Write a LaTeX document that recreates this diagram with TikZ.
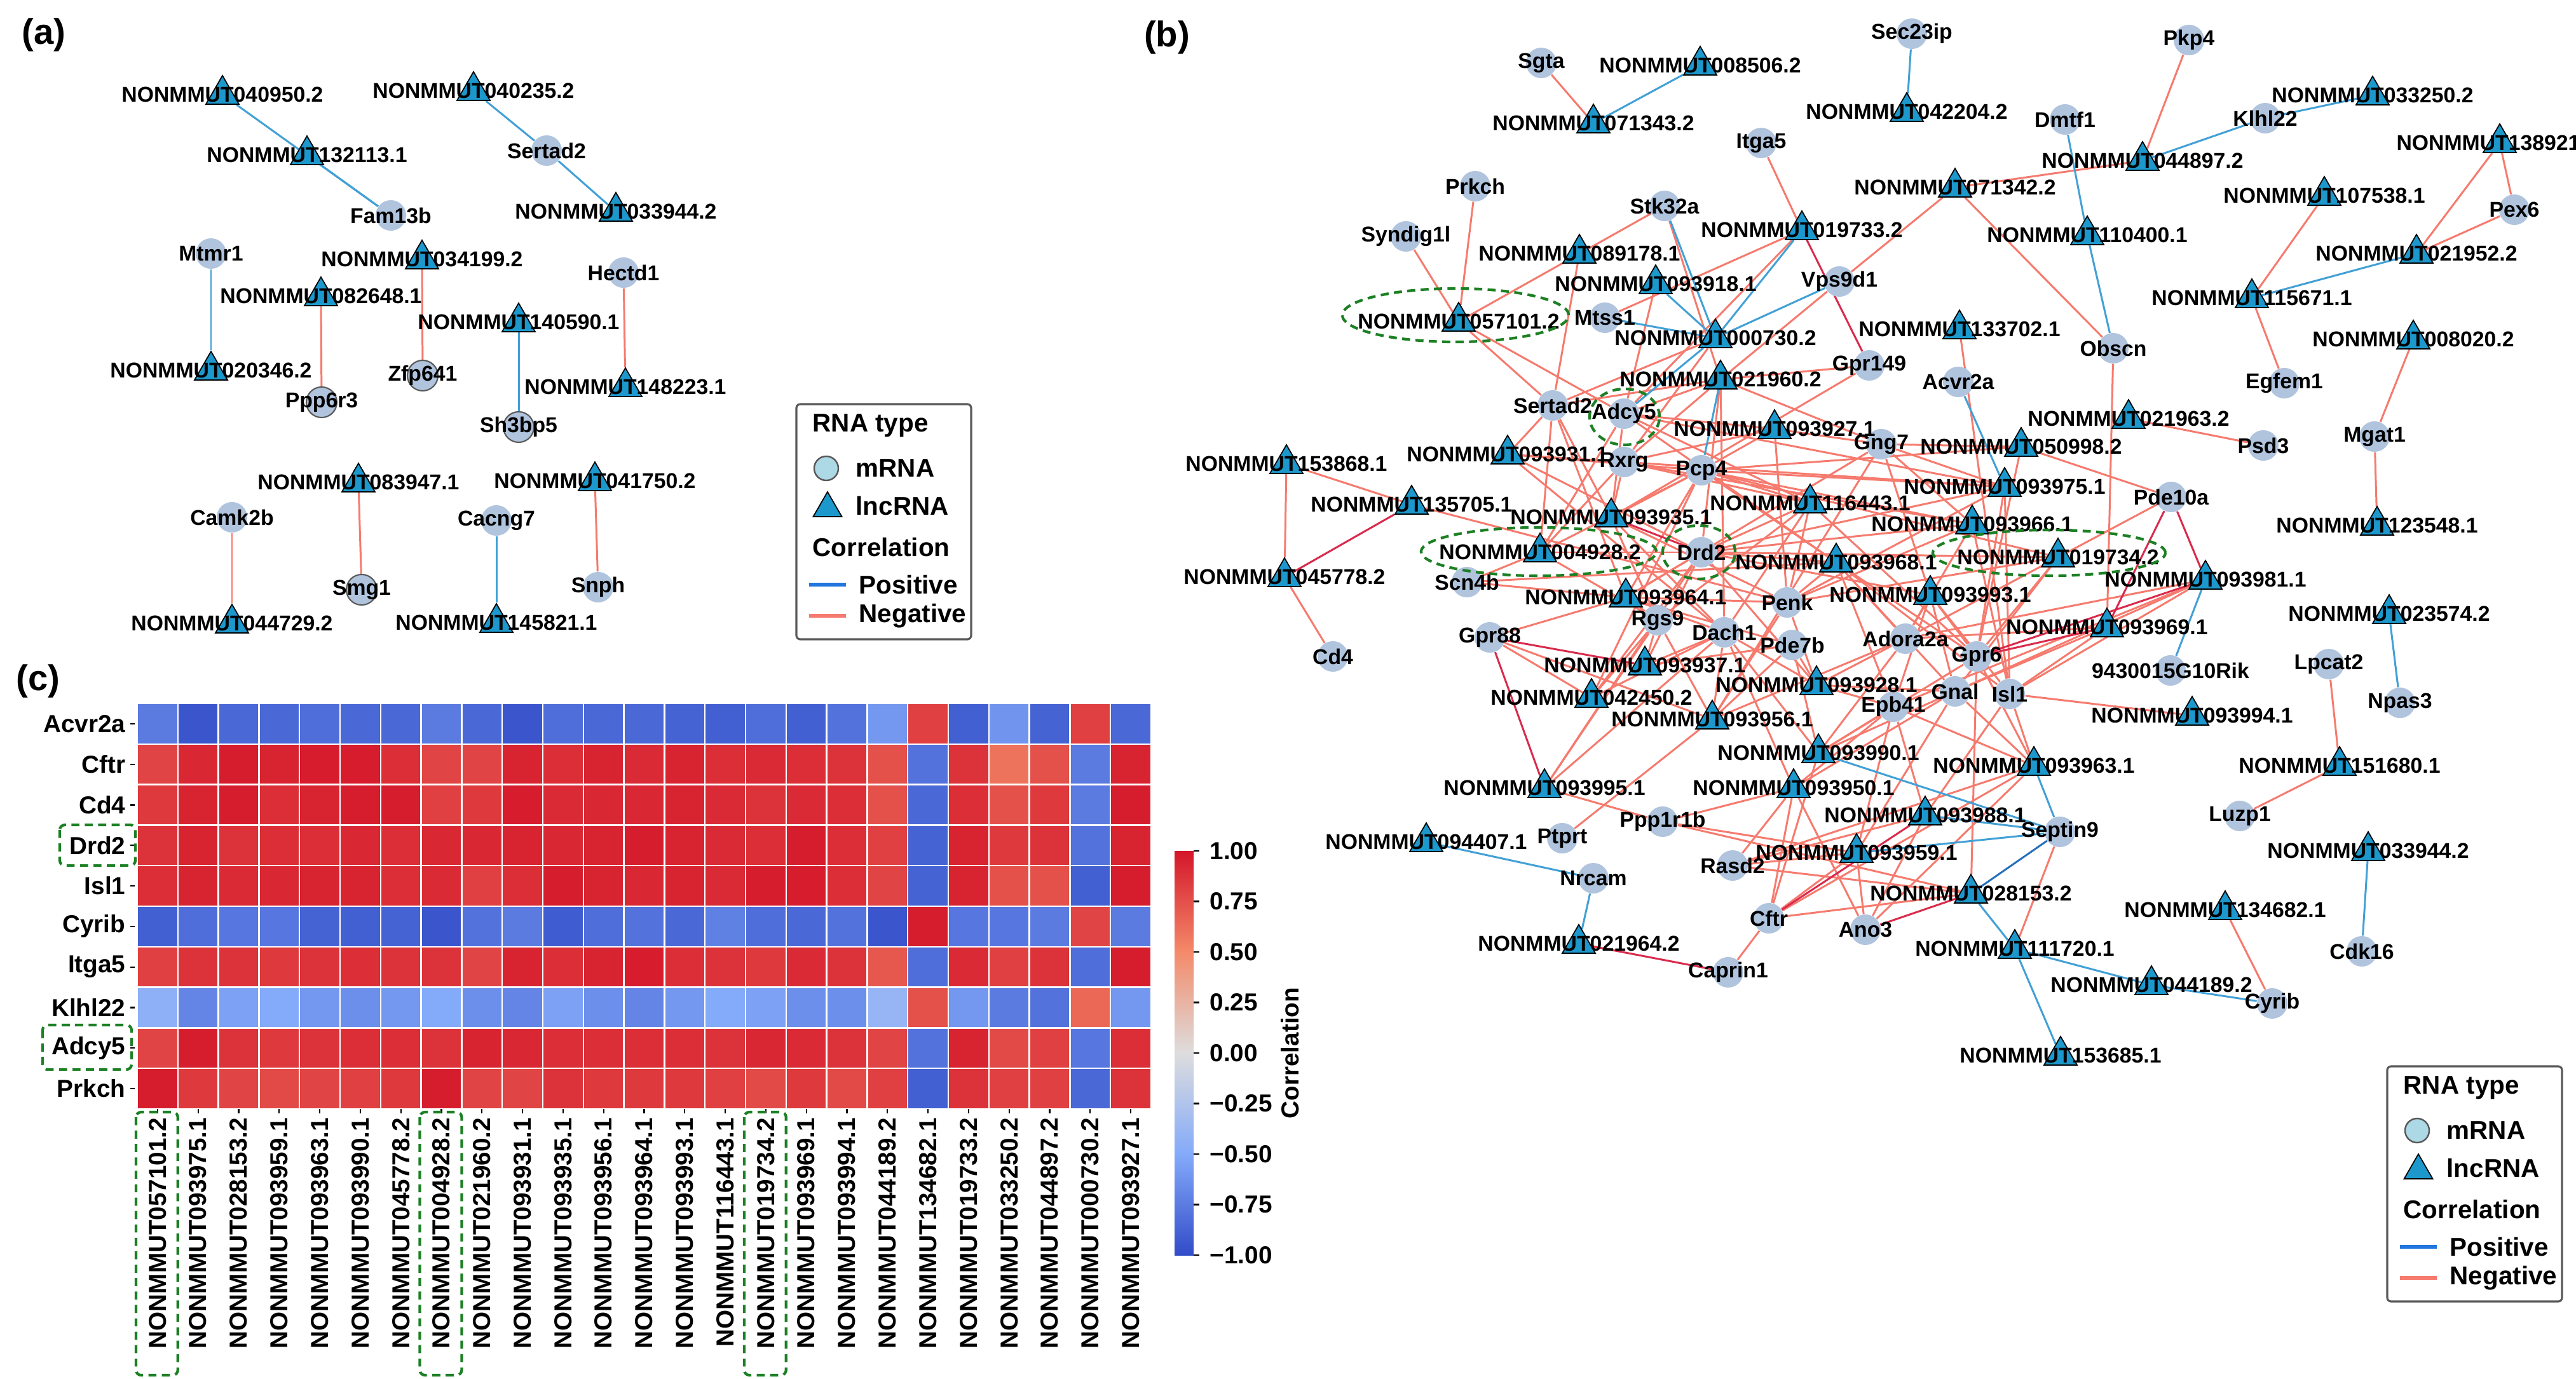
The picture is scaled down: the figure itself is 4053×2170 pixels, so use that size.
\documentclass[tikz,border=0pt]{standalone}
\usepackage{fontspec}
\setmainfont{Liberation Sans}
\usetikzlibrary{shapes.geometric}

\pgfdeclarelayer{paper}
\pgfdeclarelayer{edges}
\pgfsetlayers{paper,edges,main}

\definecolor{mrnafill}{RGB}{176,196,222}
\definecolor{legfill}{RGB}{173,216,230}
\definecolor{lncfill}{RGB}{28,152,204}
\definecolor{negred}{RGB}{246,122,110}
\definecolor{negdark}{RGB}{218,42,76}
\definecolor{posblue}{RGB}{66,160,214}
\definecolor{posdark}{RGB}{38,112,188}
\definecolor{legblue}{RGB}{34,118,222}
\definecolor{hlgreen}{RGB}{28,128,36}
\definecolor{hr1}{RGB}{212,22,42}
\definecolor{hr2}{RGB}{244,138,106}
\definecolor{hmid}{RGB}{221,221,221}
\definecolor{hb2}{RGB}{132,170,250}
\definecolor{hb1}{RGB}{50,76,200}

\def\cell{63.8}
\def\lblfont{\fontsize{9.6}{10}\selectfont\bfseries}
\def\axfont{\fontsize{11}{12}\selectfont\bfseries}
\def\legfont{\fontsize{11.5}{12}\selectfont\bfseries}

\newcommand{\setheat}[1]{%
  \pgfmathsetmacro{\hv}{#1}%
  \pgfmathtruncatemacro{\hk}{(\hv>=0.5) ? 0 : ((\hv>=0) ? 1 : ((\hv>=-0.5) ? 2 : 3))}%
  \ifcase\hk\relax
    \pgfmathtruncatemacro{\hp}{(\hv-0.5)*200}\colorlet{hc}{hr1!\hp!hr2}%
  \or
    \pgfmathtruncatemacro{\hp}{\hv*200}\colorlet{hc}{hr2!\hp!hmid}%
  \or
    \pgfmathtruncatemacro{\hp}{abs(\hv)*200}\colorlet{hc}{hb2!\hp!hmid}%
  \else
    \pgfmathtruncatemacro{\hp}{(abs(\hv)-0.5)*200}\colorlet{hc}{hb1!\hp!hb2}%
  \fi}

\pgfdeclareverticalshading{cbar}{100bp}{color(0bp)=(hb1); color(25bp)=(hb1); color(37.5bp)=(hb2); color(50bp)=(hmid); color(62.5bp)=(hr2); color(75bp)=(hr1); color(100bp)=(hr1)}

\begin{document}
\begin{tikzpicture}[x=0.01cm, y=-0.01cm]
    \tikzstyle{mrna}=[circle, fill=mrnafill, minimum size=0.48cm, inner sep=0pt]
    \tikzstyle{mrna ring}=[mrna, draw=black!65, line width=0.6pt]
    \tikzstyle{lnc}=[regular polygon, regular polygon sides=3, fill=lncfill, draw=black, line width=0.5pt, minimum size=0.6cm, inner sep=0pt]
    \tikzstyle{annot}=[font=\lblfont, inner sep=0pt]
    \tikzstyle{neglink}=[negred, line width=0.85pt]
    \tikzstyle{negdeep}=[negdark, line width=0.85pt]
    \tikzstyle{poslink}=[posblue, line width=0.85pt]
    \tikzstyle{posdeep}=[posdark, line width=0.85pt]
    \tikzstyle{hilite}=[hlgreen, line width=1.2pt, dash pattern=on 3.6pt off 2.4pt]
    \tikzstyle{legtext}=[font=\legfont, anchor=west, inner sep=0pt]
    \tikzstyle{axlab}=[font=\axfont, inner sep=0pt]
    \tikzstyle{panel}=[font=\fontsize{16}{18}\selectfont\bfseries, inner sep=0pt]

    \begin{pgfonlayer}{paper}
        \fill[white] (0,0) rectangle (4053,2170);
    \end{pgfonlayer}
    \useasboundingbox (0,0) rectangle (4053,2170);

    \node[panel] (pa) at (69,55) {(a)};
    \node[panel] (pb) at (1836,59) {(b)};
    \node[panel] (pc) at (60,1072) {(c)};

    \foreach \n/\x/\y in {Sertad2/860/237, Fam13b/615/339, Mtmr1/332/399, Hectd1/981/429,
        Camk2b/365/814, Cacng7/781/819, Snph/941/924}
        \node[mrna, label={[annot]center:\n}] (a-\n) at (\x,\y) {};
    \foreach \n/\x/\y in {Zfp641/665/591, Ppp6r3/506/633, Sh3bp5/816/672, Smg1/569/928}
        \node[mrna ring, label={[annot]center:\n}] (a-\n) at (\x,\y) {};
    \foreach \n/\s/\x/\y in {040950/2/350/149, 040235/2/745/143, 132113/1/483/244, 033944/2/969/333,
        034199/2/664/408, 082648/1/505/466, 140590/1/816/507, 020346/2/332/583, 148223/1/984/609,
        083947/1/564/759, 041750/2/936/757, 044729/2/365/981, 145821/1/781/980}
        \node[lnc, label={[annot]center:NONMMUT\n.\s}] (a-\n) at (\x,\y) {};

    \foreach \n/\x/\y in {Sgta/2425/99, Sec23ip/3008/53, Pkp4/3444/63, Klhl22/3564/186, Dmtf1/3249/188,
        Itga5/2771/225, Prkch/2321/293, Pex6/3956/330, Stk32a/2619/324, Syndig1l/2212/372,
        Vps9d1/2894/443, Mtss1/2525/500, Obscn/3325/548, Gpr149/2941/575, Acvr2a/3081/601,
        Egfem1/3594/603, Sertad2/2443/638, Adcy5/2555/651, Mgat1/3736/687, Gng7/2960/699,
        Psd3/3561/701, Rxrg/2555/727, Pcp4/2677/740, Pde10a/3416/782, Drd2/2677/869,
        Scn4b/2308/916, Penk/2812/948, Rgs9/2608/976, Dach1/2713/995, Gpr88/2344/1003,
        Adora2a/2998/1005, Pde7b/2820/1015, Cd4/2097/1033, Gpr6/3110/1033, Lpcat2/3664/1045,
        9430015G10Rik/3415/1055, Gnal/3076/1088, Isl1/3162/1092, Npas3/3776/1106, Epb41/2979/1112,
        Luzp1/3524/1284, Ppp1r1b/2616/1293, Septin9/3241/1309, Ptprt/2458/1319, Rasd2/2726/1362,
        Nrcam/2507/1382, Cftr/2783/1445, Ano3/2935/1463, Cdk16/3716/1497, Caprin1/2719/1530,
        Cyrib/3575/1579}
        \node[mrna, label={[annot]center:\n}] (b-\n) at (\x,\y) {};
    \foreach \n/\s/\x/\y in {071343/2/2507/194, 008506/2/2675/103, 042204/2/3000/176, 044897/2/3371/253,
        033250/2/3733/150, 107538/1/3657/308, 021952/2/3802/399, 115671/1/3543/469, 008020/2/3797/534,
        071342/2/3076/295, 110400/1/3284/370, 019733/2/2835/362, 089178/1/2485/399, 093918/1/2605/447,
        057101/2/2295/506, 000730/2/2699/532, 133702/1/3083/518, 021960/2/2707/597, 021963/2/3349/659,
        093927/1/2792/675, 050998/2/3180/703, 093931/1/2372/715, 153868/1/2024/730, 135705/1/2221/794,
        093975/1/3154/766, 116443/1/2848/792, 093935/1/2535/814, 093966/1/3103/825, 123548/1/3740/827,
        004928/2/2423/869, 019734/2/3238/877, 093968/1/2889/885, 045778/2/2021/908, 093981/1/3470/912,
        093993/1/3037/936, 093964/1/2558/940, 023574/2/3759/966, 093969/1/3315/987, 093937/1/2588/1047,
        093928/1/2858/1078, 042450/2/2504/1098, 093994/1/3449/1126, 093956/1/2694/1132,
        093990/1/2861/1185, 093963/1/3200/1205, 151680/1/3681/1205, 093995/1/2430/1240,
        093950/1/2822/1240, 093988/1/3029/1283, 094407/1/2244/1325, 093959/1/2921/1342,
        033944/2/3726/1339, 028153/2/3101/1406, 134682/1/3501/1432, 021964/2/2484/1485,
        111720/1/3170/1493, 044189/2/3385/1550, 153685/1/3242/1661}
        \node[lnc, label={[annot]center:NONMMUT\n.\s}] (b-\n) at (\x,\y) {};
    \node[lnc, label={[annot, xshift=-0.18cm]center:NONMMUT138921}] (b-138921) at (3933,225) {};

    \begin{pgfonlayer}{edges}
        \foreach \a/\b in {040950/Fam13b, 132113/Fam13b, 040235/Sertad2, 033944/Sertad2, 020346/Mtmr1,
            140590/Sh3bp5, 145821/Cacng7}
            \draw[poslink] (a-\a) -- (a-\b);
        \foreach \a/\b in {082648/Ppp6r3, 034199/Zfp641, 148223/Hectd1, 083947/Smg1, 041750/Snph,
            044729/Camk2b}
            \draw[neglink] (a-\a) -- (a-\b);

        \foreach \a/\b in {071343/Sgta, 071342/044897, 044897/Pkp4, 115671/107538, 021952/138921,
            138921/Pex6, 021952/Pex6, 115671/Egfem1, 008020/Mgat1, 123548/Mgat1, 021963/Psd3,
            151680/Lpcat2, 151680/Luzp1, 134682/Cyrib, 111720/Septin9, 153868/135705, 153868/045778,
            045778/Cd4, Caprin1/Cftr, 019733/Itga5, 057101/Prkch, 057101/Syndig1l, 057101/Stk32a,
            057101/Sertad2, 057101/Adcy5, 089178/Sertad2, 019733/Mtss1, 021960/Stk32a, 093918/Adcy5,
            019733/Adcy5, 071342/Vps9d1, 021960/Vps9d1, 071342/Obscn, 133702/Isl1, 093969/Obscn,
            093994/Isl1, 135705/Penk, 000730/Sertad2, 000730/Rxrg}
            \draw[neglink] (b-\a) -- (b-\b);
        \foreach \l/\ms in {021960/{Sertad2,Rxrg,Adcy5,Drd2,Gng7,Gpr149,Dach1},
            093927/{Adcy5,Pcp4,Gng7,Rxrg,Penk},
            093931/{Rxrg,Pcp4,Drd2,Dach1,Sertad2},
            093935/{Rxrg,Pcp4,Dach1,Rgs9,Penk,Sertad2,Adcy5,Gpr149},
            004928/{Scn4b,Drd2,Pcp4,Rgs9,Adcy5,Rxrg,Sertad2},
            116443/{Adcy5,Rxrg,Pcp4,Drd2,Penk,Dach1,Rgs9,Gpr6},
            093975/{Adcy5,Rxrg,Pcp4,Gng7,Drd2,Penk,Gpr6,Isl1},
            050998/{Gng7,Pcp4,Gpr6,Pde10a},
            093966/{Rxrg,Pcp4,Drd2,Penk,Adora2a,Isl1,Gng7},
            019734/{Pde10a,Pcp4,Drd2,Gpr6,Gnal,Adora2a,Penk},
            093968/{Drd2,Pcp4,Adcy5,Penk,Adora2a,Gpr6,Gnal,Isl1,Scn4b,Epb41},
            093993/{Gnal,Gpr6,Isl1,Adora2a,Epb41,Drd2,Gng7},
            093964/{Scn4b,Gpr88,Rgs9,Dach1,Penk,Pde7b,Drd2,Pcp4,Sertad2,Gng7},
            093969/{Gnal,Isl1,Adora2a},
            093981/{Gnal,Isl1,Adora2a,Epb41},
            093937/{Rgs9,Dach1,Pde7b,Drd2},
            042450/{Gpr88,Rgs9,Dach1,Drd2,Pcp4},
            093928/{Pde7b,Dach1,Adora2a,Penk,Gnal,Epb41,Drd2},
            093956/{Rgs9,Dach1,Penk,Pde7b,Adora2a,Ptprt,Gng7,Gpr88},
            093990/{Epb41,Adora2a,Gnal,Gpr6,Dach1,Pde7b,Cftr},
            093963/{Gnal,Isl1,Gpr6,Epb41,Cftr,Ano3,Rasd2},
            093995/{Rgs9,Dach1,Ppp1r1b,Drd2},
            093950/{Ppp1r1b,Rasd2,Cftr,Ano3,Epb41,Gnal,Dach1},
            093988/{Ano3,Epb41,Isl1,Rasd2},
            093959/{Cftr,Ano3,Epb41,Gnal,Rasd2,Ppp1r1b},
            028153/{Cftr,Ppp1r1b,Rasd2,Gpr6}}
            \foreach \m in \ms
                \draw[neglink] (b-\l) -- (b-\m);
        \foreach \a/\b in {135705/045778, 021964/Caprin1, 019733/Gpr149, 093969/Gpr6, 093969/Pde10a,
            093981/Pde10a, 093981/Gpr6, 093937/Gpr88, 093995/Gpr88, 093988/Cftr, 028153/Ano3, 093935/Drd2}
            \draw[negdeep] (b-\a) -- (b-\b);
        \foreach \a/\b in {071343/008506, 042204/Sec23ip, 110400/Dmtf1, 110400/Obscn, 044897/Klhl22,
            033250/Klhl22, 115671/021952, 023574/Npas3, 033944/Cdk16, 044189/Cyrib, 111720/044189,
            111720/153685, 028153/111720, 094407/Nrcam, 021964/Nrcam, 093981/9430015G10Rik,
            093975/Acvr2a, 000730/Stk32a, 000730/Mtss1, 000730/093918, 000730/019733, 000730/Vps9d1,
            021960/Pcp4, 000730/Adcy5, 093963/Septin9, 093988/Septin9, 093959/Septin9, 093990/Septin9}
            \draw[poslink] (b-\a) -- (b-\b);
        \draw[posdeep] (b-028153) -- (b-Septin9);
    \end{pgfonlayer}

    \draw[hilite] (2290,496) ellipse [x radius=1.78cm, y radius=0.42cm];
    \draw[hilite] (2556,656) ellipse [x radius=0.55cm, y radius=0.44cm];
    \draw[hilite] (2421,868) ellipse [x radius=1.85cm, y radius=0.38cm];
    \draw[hilite] (2673,869) ellipse [x radius=0.57cm, y radius=0.42cm];
    \draw[hilite] (3224,870) ellipse [x radius=1.83cm, y radius=0.36cm];

    \foreach \lx/\ly/\p in {1253/636/a, 3756/1678/b} {
        \begin{scope}[shift={(\lx,\ly)}]
            \draw[black!65, line width=0.9pt, rounded corners=0.06cm] (0,0) rectangle (275,370);
            \node[legtext] (leg-\p-rna) at (25,34) {RNA type};
            \node[circle, fill=legfill, draw=black!65, line width=0.7pt, minimum size=0.38cm, inner sep=0pt] (leg-\p-m) at (47,101) {};
            \node[legtext] (leg-\p-mt) at (93,101) {mRNA};
            \node[lnc, minimum size=0.52cm] (leg-\p-l) at (49,164) {};
            \node[legtext] (leg-\p-lt) at (93,160) {lncRNA};
            \node[legtext] (leg-\p-ct) at (25,225) {Correlation};
            \draw[legblue, line width=1.6pt] (20,284) -- (78,284);
            \node[legtext] (leg-\p-pt) at (98,284) {Positive};
            \draw[negred, line width=1.6pt] (20,333) -- (78,333);
            \node[legtext] (leg-\p-nt) at (98,333) {Negative};
        \end{scope}
    }

    \foreach \row [count=\r] in {
        {-0.75,-0.95,-0.85,-0.85,-0.82,-0.85,-0.85,-0.75,-0.85,-0.95,-0.82,-0.85,-0.85,-0.88,-0.9,-0.82,-0.9,-0.8,-0.6,0.82,-0.9,-0.62,-0.88,0.82,-0.85},
        {0.8,0.93,0.97,0.95,0.98,0.98,0.9,0.8,0.8,0.95,0.9,0.95,0.92,0.95,0.9,0.92,0.9,0.88,0.75,-0.8,0.88,0.6,0.75,-0.75,0.95},
        {0.85,0.95,0.97,0.9,0.95,0.97,0.97,0.82,0.85,0.98,0.92,0.93,0.93,0.95,0.92,0.88,0.92,0.9,0.75,-0.85,0.9,0.75,0.85,-0.75,0.97},
        {0.88,0.95,0.88,0.9,0.9,0.93,0.9,0.93,0.93,0.95,0.93,0.95,0.97,0.95,0.92,0.9,0.97,0.9,0.82,-0.88,0.95,0.85,0.88,-0.8,0.95},
        {0.9,0.95,0.92,0.93,0.95,0.95,0.9,0.92,0.82,0.9,0.97,0.95,0.93,0.95,0.92,0.97,0.98,0.9,0.8,-0.88,0.95,0.75,0.75,-0.9,0.97},
        {-0.9,-0.82,-0.78,-0.78,-0.88,-0.9,-0.88,-0.95,-0.8,-0.75,-0.92,-0.82,-0.8,-0.85,-0.72,-0.82,-0.85,-0.8,-0.95,0.97,-0.78,-0.78,-0.75,0.8,-0.75},
        {0.82,0.88,0.88,0.85,0.88,0.9,0.88,0.88,0.8,0.95,0.9,0.95,0.98,0.9,0.88,0.85,0.92,0.88,0.72,-0.82,0.92,0.82,0.88,-0.82,0.97},
        {-0.45,-0.7,-0.55,-0.5,-0.6,-0.65,-0.6,-0.5,-0.65,-0.7,-0.55,-0.65,-0.7,-0.6,-0.5,-0.55,-0.65,-0.65,-0.4,0.75,-0.6,-0.75,-0.8,0.65,-0.6},
        {0.8,0.97,0.88,0.85,0.88,0.9,0.9,0.88,0.95,0.93,0.9,0.9,0.9,0.9,0.88,0.93,0.92,0.88,0.8,-0.8,0.95,0.78,0.82,-0.78,0.9},
        {0.97,0.85,0.8,0.78,0.8,0.82,0.85,0.97,0.8,0.8,0.88,0.85,0.85,0.85,0.82,0.78,0.85,0.78,0.82,-0.9,0.88,0.82,0.82,-0.85,0.88}} {
        \foreach \v [count=\c] in \row {
            \setheat{\v}
            \path[fill=hc, draw=white, line width=0.7pt] ({216+(\c-1)*\cell},{1107+(\r-1)*\cell}) rectangle ++(\cell,\cell);
        }
    }
    \foreach \g [count=\r] in {Acvr2a,Cftr,Cd4,Drd2,Isl1,Cyrib,Itga5,Klhl22,Adcy5,Prkch} {
        \node[axlab, anchor=east] (row-\g) at (198,{1107+(\r-0.5)*\cell}) {\g};
        \draw[line width=0.6pt] (205,{1107+(\r-0.5)*\cell}) -- (212,{1107+(\r-0.5)*\cell});
    }
    \foreach \t [count=\c] in {057101.2,093975.1,028153.2,093959.1,093963.1,093990.1,045778.2,004928.2,
        021960.2,093931.1,093935.1,093956.1,093964.1,093993.1,116443.1,019734.2,093969.1,093994.1,
        044189.2,134682.1,019733.2,033250.2,044897.2,000730.2,093927.1} {
        \node[axlab, rotate=90, anchor=east] (col-\c) at ({216+(\c-0.5)*\cell},1758) {NONMMUT\t};
        \draw[line width=0.6pt] ({216+(\c-0.5)*\cell},1745) -- ({216+(\c-0.5)*\cell},1752);
    }
    \draw[hilite, rounded corners=0.08cm] (94,1298) rectangle (213,1362);
    \draw[hilite, rounded corners=0.08cm] (67,1613) rectangle (207,1683);
    \foreach \c in {1,8,16}
        \draw[hilite, rounded corners=0.08cm] ({214+(\c-1)*\cell},1750) rectangle ({216+\c*\cell},2164);

    \shade[shading=cbar] (1848,1339) rectangle (1878,1975);
    \foreach \t [count=\k from 0] in {1.00,0.75,0.50,0.25,0.00,−0.25,−0.50,−0.75,−1.00} {
        \draw[line width=0.6pt] (1878,{1339+\k*79.5}) -- (1887,{1339+\k*79.5});
        \node[axlab, anchor=west] (tick-\k) at (1903,{1339+\k*79.5}) {\t};
    }
    \node[axlab, rotate=90] (cbar-title) at (2030,1657) {Correlation};
\end{tikzpicture}
\end{document}
